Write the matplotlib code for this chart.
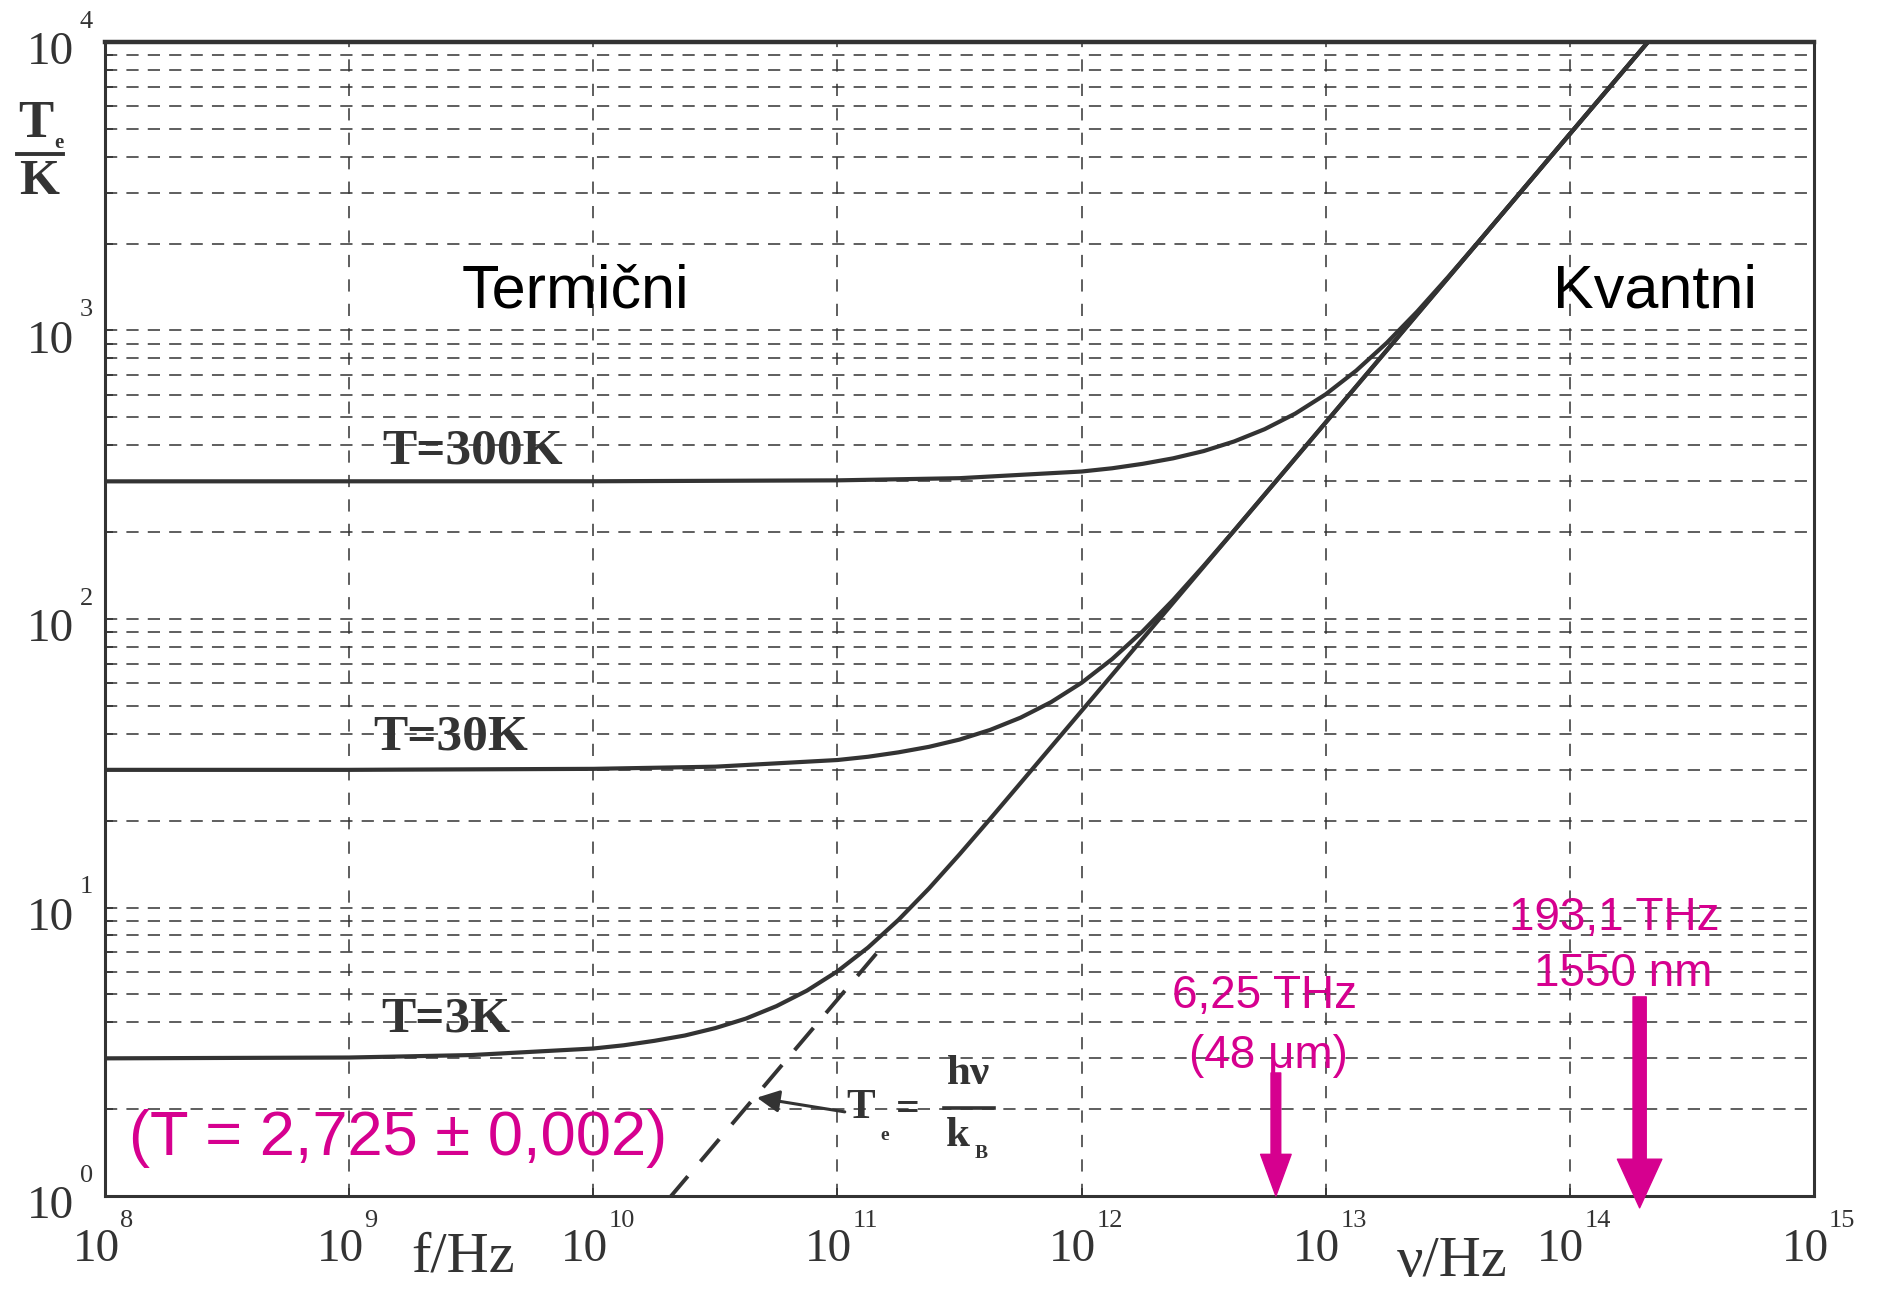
import numpy as np
import matplotlib
matplotlib.use('Agg')
import matplotlib.pyplot as plt
from matplotlib.lines import Line2D
from matplotlib.transforms import blended_transform_factory, offset_copy

W, H = 1886, 1289

# curve data: log10(frequency / Hz) and T_e in K
lognu_3K = [8.0, 9.0, 9.5, 10.0, 10.125, 10.25, 10.375, 10.5, 10.625, 10.75, 10.875,
            11.0, 11.125, 11.25, 11.375, 11.5, 11.625, 11.75, 12.0, 13.0, 14.0, 14.32]
Te_3K = [3.0, 3.02, 3.08, 3.245, 3.33, 3.45, 3.6, 3.82, 4.12, 4.55, 5.15,
         6.01, 7.26, 9.06, 11.64, 15.28, 20.26, 27.0, 48.0, 480, 4800, 10000]

lognu_30K = [8.0, 9.0, 10.0, 10.5, 11.0, 11.125, 11.25, 11.375, 11.5, 11.625, 11.75,
             11.875, 12.0, 12.125, 12.25, 12.375, 12.5, 12.625, 12.75, 13.0, 14.0, 14.32]
Te_30K = [30.0, 30.0, 30.24, 30.77, 32.45, 33.3, 34.5, 36.05, 38.2, 41.25, 45.5,
          51.5, 60.1, 72.6, 90.6, 116.4, 152.8, 202.6, 270, 480, 4800, 10000]

lognu_300K = [8.0, 10.0, 11.0, 11.5, 12.0, 12.125, 12.25, 12.375, 12.5, 12.625, 12.75,
              12.875, 13.0, 13.125, 13.25, 13.375, 13.5, 13.625, 13.75, 14.0, 14.32]
Te_300K = [300, 300.2, 302.4, 307.7, 324.5, 333, 345, 360.5, 382, 412.5, 455,
           515, 601, 726, 906, 1164, 1528, 2026, 2700, 4800, 10000]

# dashed quantum limit T_e = h nu / k_B (lower part)
lognu_quant = [10.31, 11.2]
Te_quant = [0.98, 7.6]

curve_labels = ['T=300K', 'T=30K', 'T=3K']
arrow_freqs = [6.25e12, 1.931e14]

magenta = '#D6008F'
ink = '#333333'
serif = 'Liberation Serif'
sans = 'Liberation Sans'

fig = plt.figure(figsize=(W / 100, H / 100), dpi=100)
ax = fig.add_axes([105 / W, 1 - 1196 / H, 1709 / W, 1154 / H])


def fpos(x, y):
    return x / W, 1 - y / H


ax.set_xscale('log')
ax.set_yscale('log')
ax.set_xlim(1e8, 1e15)
ax.set_ylim(1, 1e4)

# grid: decades on x, every minor step on y
ax.xaxis.set_minor_locator(matplotlib.ticker.NullLocator())
ax.xaxis.grid(True, which='major', color=ink, lw=1.1, ls=(0, (8, 8)))
ax.yaxis.grid(True, which='both', color=ink, lw=1.1, ls=(0, (8, 6)))
ax.tick_params(which='both', direction='in', length=6, width=1.2, colors=ink,
               labelbottom=False, labelleft=False)
for s in ax.spines.values():
    s.set_linewidth(2.2)
    s.set_color(ink)
ax.spines['top'].set_linewidth(3.2)

# curves
ax.plot(10 ** np.array(lognu_quant), Te_quant, color=ink, lw=2.8, ls=(0, (7.5, 5)))
for lg, te in [(lognu_300K, Te_300K), (lognu_30K, Te_30K), (lognu_3K, Te_3K)]:
    ax.plot(10 ** np.array(lg), te, color=ink, lw=3.0, solid_capstyle='round')

# tick labels "10" with raised exponent
ytr = blended_transform_factory(ax.transAxes, ax.transData)
xtr = blended_transform_factory(ax.transData, ax.transAxes)
for k in range(0, 5):
    ax.text(0, 10 ** k, '10', fontfamily=serif, fontsize=34, color=ink, ha='right', va='center',
            transform=offset_copy(ytr, fig, x=-31, y=-11, units='dots'))
    ax.text(0, 10 ** k, str(k), fontfamily=serif, fontsize=19, color=ink, ha='left', va='center',
            transform=offset_copy(ytr, fig, x=-25, y=20, units='dots'))
for k in range(8, 16):
    ax.text(10 ** k, 0, '10', fontfamily=serif, fontsize=34, color=ink, ha='center', va='center',
            transform=offset_copy(xtr, fig, x=-9, y=-54, units='dots'))
    ax.text(10 ** k, 0, str(k), fontfamily=serif, fontsize=19, color=ink, ha='left', va='center',
            transform=offset_copy(xtr, fig, x=15, y=-25, units='dots'))

# axis labels
fig.text(*fpos(463, 1257), 'f/Hz', fontfamily=serif, fontsize=42, color=ink, ha='center', va='center')
fig.text(*fpos(1452, 1262), 'ν/Hz', fontfamily=serif, fontsize=42, color=ink, ha='center', va='center')
fig.text(*fpos(36, 124), 'T', fontfamily=serif, fontweight='bold', fontsize=38, color=ink,
         ha='center', va='center')
fig.text(*fpos(59, 143), 'e', fontfamily=serif, fontweight='bold', fontsize=15, color=ink,
         ha='center', va='center')
fig.add_artist(Line2D([17 / W, 63 / W], [1 - 154 / H, 1 - 154 / H], color=ink, lw=2.8))
fig.text(*fpos(39, 182), 'K', fontfamily=serif, fontweight='bold', fontsize=37, color=ink,
         ha='center', va='center')

# region labels
fig.text(*fpos(575, 292), 'Termični', fontfamily=sans, fontsize=44, color='black', ha='center', va='center')
fig.text(*fpos(1655, 292), 'Kvantni', fontfamily=sans, fontsize=44, color='black', ha='center', va='center')

# curve labels
for lab, (px, py) in zip(curve_labels, [(473, 451), (451, 738), (446, 1020)]):
    fig.text(*fpos(px, py), lab, fontfamily=serif, fontweight='bold', fontsize=37, color=ink,
             ha='center', va='center')

# T_e = h nu / k_B annotation
ax.annotate('', xy=(4.56e10, 2.2), xytext=(1.1e11, 1.95),
            arrowprops=dict(arrowstyle='-|>', color=ink, lw=2.2, mutation_scale=34))
fig.text(*fpos(861, 1108), 'T', fontfamily=serif, fontweight='bold', fontsize=31, color=ink, ha='center', va='center')
fig.text(*fpos(885, 1136), 'e', fontfamily=serif, fontweight='bold', fontsize=14, color=ink, ha='center', va='center')
fig.text(*fpos(908, 1110), '=', fontfamily=serif, fontweight='bold', fontsize=30, color=ink, ha='center', va='center')
fig.text(*fpos(969, 1074), 'hν', fontfamily=serif, fontweight='bold', fontsize=31, color=ink, ha='center', va='center')
fig.add_artist(Line2D([944 / W, 994 / W], [1 - 1108 / H, 1 - 1108 / H], color=ink, lw=2.6))
fig.text(*fpos(958, 1136), 'k', fontfamily=serif, fontweight='bold', fontsize=31, color=ink, ha='center', va='center')
fig.text(*fpos(981, 1153), 'B', fontfamily=serif, fontweight='bold', fontsize=14, color=ink, ha='center', va='center')

# magenta notes
fig.text(*fpos(398, 1139), '(T = 2,725 ± 0,002)', fontfamily=sans, fontsize=45.5, color=magenta,
         ha='center', va='center')
fig.text(*fpos(1265, 996), '6,25 THz', fontfamily=sans, fontsize=33, color=magenta, ha='center', va='center')
fig.text(*fpos(1268, 1056), '(48 μm)', fontfamily=sans, fontsize=33, color=magenta, ha='center', va='center')
fig.text(*fpos(1614, 918), '193,1 THz', fontfamily=sans, fontsize=33, color=magenta, ha='center', va='center')
fig.text(*fpos(1623, 974), '1550 nm', fontfamily=sans, fontsize=33, color=magenta, ha='center', va='center')

ax.annotate('', xy=(arrow_freqs[0], 1.0), xytext=(arrow_freqs[0], 2.67), annotation_clip=False,
            arrowprops=dict(width=7, headwidth=22, headlength=30, color=magenta, shrink=0))
ax.annotate('', xy=(arrow_freqs[1], 0.91), xytext=(arrow_freqs[1], 4.9), annotation_clip=False,
            arrowprops=dict(width=9.5, headwidth=32, headlength=35, color=magenta, shrink=0))

fig.savefig('out.png', dpi=100, facecolor='white')
